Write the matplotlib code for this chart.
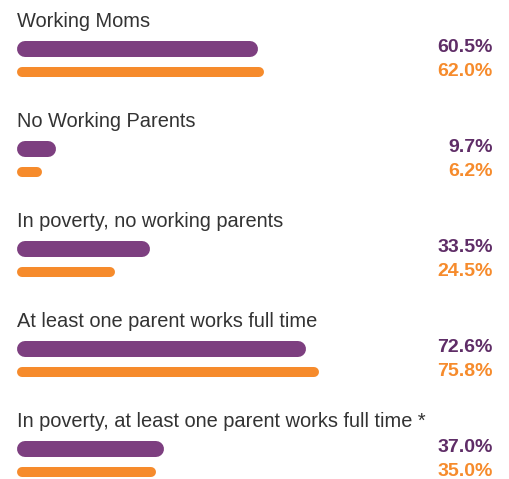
import matplotlib.pyplot as plt

plt.rcParams["font.family"] = ["Liberation Sans", "DejaVu Sans"]

# Data
categories = [
    "Working Moms",
    "No Working Parents",
    "In poverty, no working parents",
    "At least one parent works full time",
    "In poverty, at least one parent works full time *",
]
purple_vals = [60.5, 9.7, 33.5, 72.6, 37.0]
orange_vals = [62.0, 6.2, 24.5, 75.8, 35.0]

purple = "#7d3f80"
purple_text = "#5f2d67"
orange = "#f68b2c"
text_col = "#333333"

W, H = 509, 479
fig = plt.figure(figsize=(W / 100, H / 100), dpi=100)
ax = fig.add_axes([0, 0, 1, 1])

# x in percent: 0% at 17px, ~3.98 px per percent; y in pixels (top down)
scale = 3.98
x0_px = 17
ax.set_xlim(-x0_px / scale, (W - x0_px) / scale)
ax.set_ylim(H, 0)
ax.axis("off")

step = 100
for i, (cat, pv, ov) in enumerate(zip(categories, purple_vals, orange_vals)):
    top = i * step
    ax.text(0, top + 27, cat, fontsize=14.4, color=text_col, va="baseline", ha="left")

    # rounded bars: thick lines with round caps, inset by cap radius
    r1 = 8 / scale
    ax.plot([r1, pv - r1], [top + 49, top + 49], color=purple, lw=16 * 0.72,
            solid_capstyle="round")
    r2 = 5 / scale
    ax.plot([r2, ov - r2], [top + 72, top + 72], color=orange, lw=10 * 0.72,
            solid_capstyle="round")

    xr = (493 - x0_px) / scale
    ax.text(xr, top + 47.5, f"{pv:.1f}%", fontsize=14, fontweight="bold",
            color=purple_text, ha="right", va="center")
    ax.text(xr, top + 71, f"{ov:.1f}%", fontsize=14, fontweight="bold",
            color=orange, ha="right", va="center")

fig.savefig("out.png", dpi=100)
